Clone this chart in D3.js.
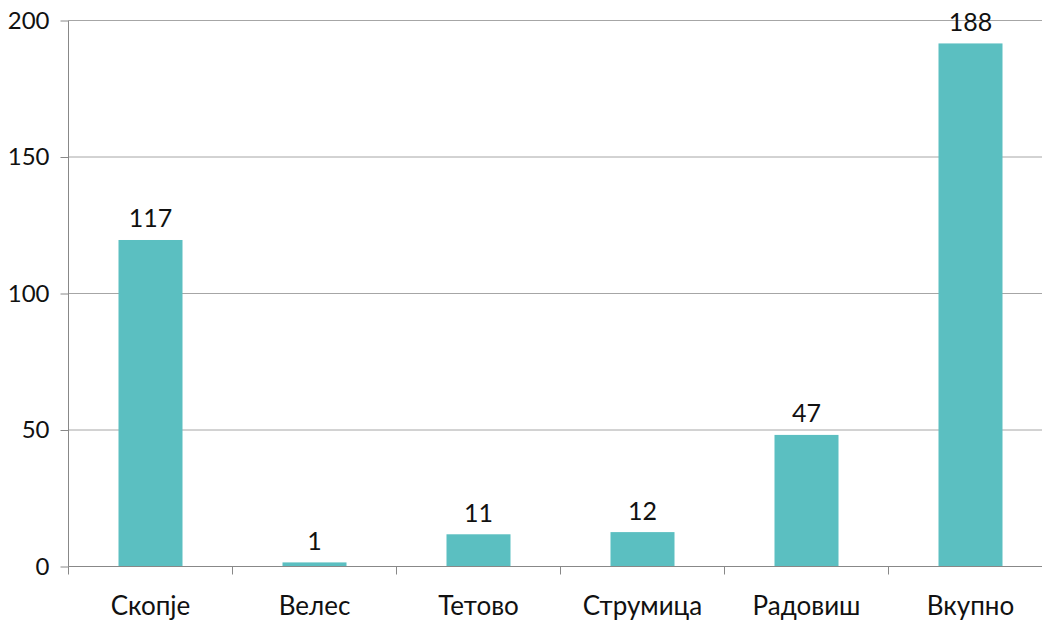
<!DOCTYPE html>
<html><head><meta charset="utf-8">
<script src="https://cdn.jsdelivr.net/npm/d3@7"></script>
<style>body{margin:0;background:#fff}svg{display:block}text{font-family:Lato,"Roboto","DejaVu Sans",sans-serif;fill:#111}</style>
</head><body>
<svg id="c" width="1042" height="622"></svg>
<script>
const categories = ["Скопје","Велес","Тетово","Струмица","Радовиш","Вкупно"];
const barValues = [119.6, 1.5, 11.8, 12.6, 48.2, 191.6];
const valueLabels = ["117","1","11","12","47","188"];
const yTicks = [0,50,100,150,200];

(function(){
const svg = d3.select("#c");
const pLeft = 68.5, pRight = 1052.5, pTop = 20.5, pBottom = 566.5;
const x = d3.scaleBand().domain(categories).range([pLeft, pRight]).paddingInner(0).paddingOuter(0);
const y = d3.scaleLinear().domain([0,200]).range([pBottom, pTop]);
const barW = 64;

svg.append("g").selectAll("line").data(yTicks).join("line")
  .attr("x1", pLeft).attr("x2", 1042).attr("y1", d=>y(d)).attr("y2", d=>y(d))
  .attr("stroke","#a6a6a6").attr("stroke-width",1);

const ya = svg.append("g").attr("transform",`translate(${pLeft},0)`)
  .call(d3.axisLeft(y).tickValues(yTicks).tickSize(8).tickPadding(11));
ya.select(".domain").attr("stroke","#888").attr("d",`M0,${pTop}V${pBottom}`);
ya.selectAll(".tick line").attr("stroke","#888");
ya.selectAll(".tick text").attr("font-size",24).attr("fill","#111").style("font-family",'Lato,"Roboto",sans-serif');

svg.append("g").selectAll("rect").data(categories).join("rect")
  .attr("x", d=>x(d)+x.bandwidth()/2-barW/2).attr("width", barW)
  .attr("y", (d,i)=>y(barValues[i])).attr("height",(d,i)=>pBottom-y(barValues[i]))
  .attr("fill","#5bbfc1");

const xa = svg.append("g").attr("transform",`translate(0,${pBottom})`);
xa.append("line").attr("x1",pLeft).attr("x2",1042).attr("stroke","#888");
const bounds = categories.map(d=>x(d)).concat([pRight]);
xa.selectAll("line.t").data(bounds).join("line").attr("class","t")
  .attr("x1",d=>d).attr("x2",d=>d).attr("y1",0).attr("y2",8).attr("stroke","#888");
xa.selectAll("text").data(categories).join("text")
  .attr("x", d=>x(d)+x.bandwidth()/2).attr("y", 48.5)
  .attr("text-anchor","middle").attr("font-size",26).text(d=>d);

svg.append("g").selectAll("text").data(categories).join("text")
  .attr("x", d=>x(d)+x.bandwidth()/2).attr("y",(d,i)=>y(barValues[i])-12.5)
  .attr("text-anchor","middle").attr("font-size",25).text((d,i)=>valueLabels[i]);
})();
</script>
</body></html>
